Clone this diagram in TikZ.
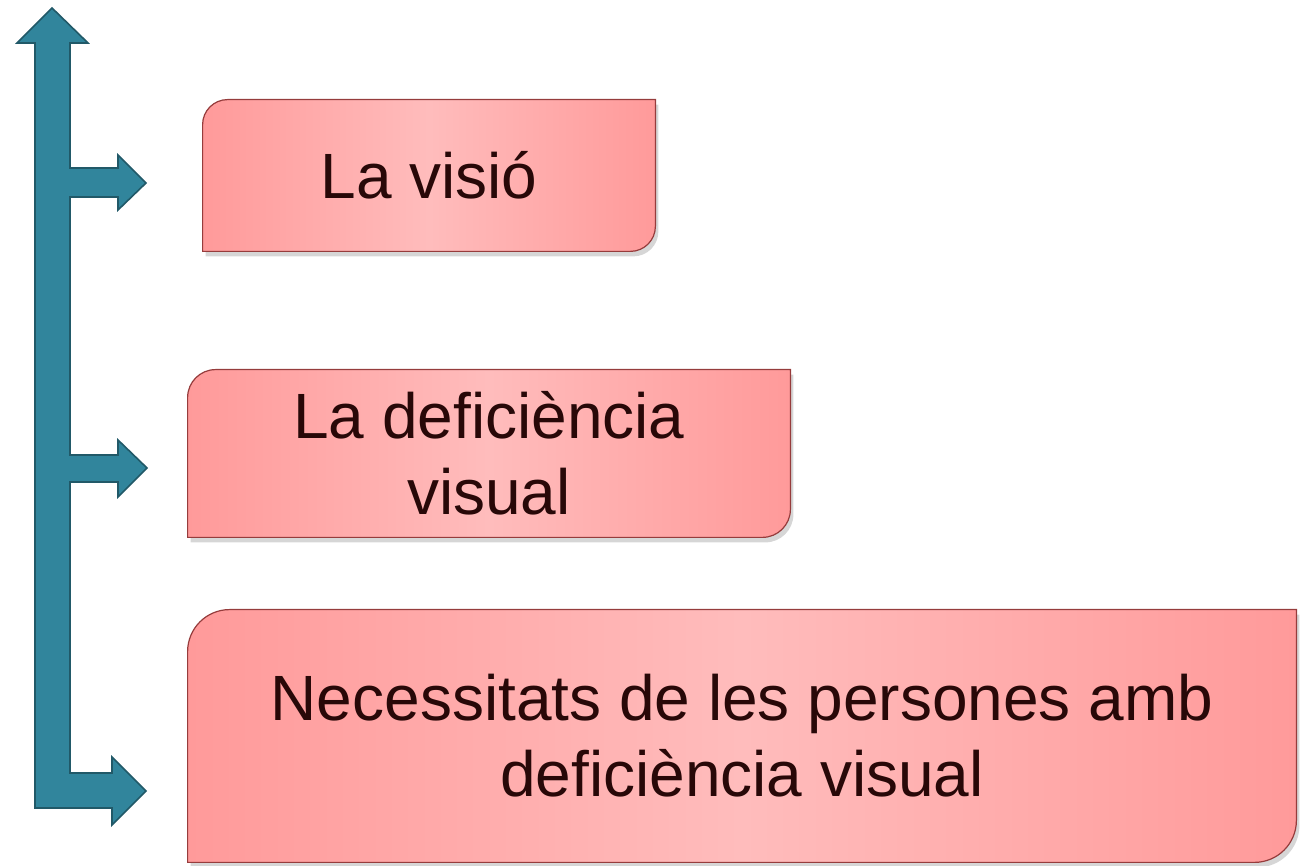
\documentclass[tikz,border=0pt]{standalone}
\usepackage{fontspec}
\setmainfont{Liberation Sans}
\usetikzlibrary{backgrounds,calc}
\definecolor{arrowfill}{RGB}{49,133,156}
\definecolor{arrowline}{RGB}{33,89,104}
\definecolor{cardedge}{RGB}{255,154,154}
\definecolor{cardmid}{RGB}{255,188,188}
\definecolor{cardline}{RGB}{150,60,60}
\definecolor{cardtext}{RGB}{40,8,8}
\tikzstyle{card}=[text=cardtext, align=center, inner sep=0pt, font=\fontsize{32}{38}\selectfont]
\tikzstyle{bigarrow}=[fill=arrowfill, draw=arrowline, line width=0.8pt, line join=miter]
\tikzstyle{cardshape}=[left color=cardedge, right color=cardedge, middle color=cardmid, draw=cardline, line width=0.6pt]
\newcommand{\cardpath}[2]{([yshift=-#2]#1.north west) arc[start angle=180, end angle=90, radius=#2]
      -- (#1.north east) -- ([yshift=#2]#1.south east) arc[start angle=0, end angle=-90, radius=#2]
      -- (#1.south west) -- cycle}
\newcommand{\drawcard}[2]{
% #1 = node, #2 = corner radius
\begin{scope}[on background layer]
  \fill[black, opacity=0.16, transform canvas={shift={(1.5pt,-2.5pt)}}] \cardpath{#1}{#2};
  \path[cardshape] \cardpath{#1}{#2};
\end{scope}
}

\begin{document}
\begin{tikzpicture}[x=0.5pt, y=0.5pt]
  \useasboundingbox (0,0) rectangle (1307,866);

  % the three cards
  \node[card, minimum width=226pt, minimum height=75.5pt] (visio) at (429,690.5) {La visió};
  \node[card, minimum width=301pt, minimum height=83.5pt] (deficiencia) at (489,412.5) {La deficiència\\visual};
  \node[card, minimum width=554pt, minimum height=126pt] (necessitats) at (742,130) {Necessitats de les persones amb\\deficiència visual};
  \drawcard{visio}{12.5pt}
  \drawcard{deficiencia}{14pt}
  \drawcard{necessitats}{21pt}

  % the branching arrow
  \draw[bigarrow] (52,858) -- (88,823) -- (70,823)
    -- (70,698) -- (118,698) -- (118,711) -- (146,683) -- (118,656) -- (118,669) -- (70,669) %visio
    -- (70,411) -- (118,411) -- (118,426) -- (147,398) -- (118,369) -- (118,384) -- (70,384) %deficiencia
    -- (70,93) -- (112,93) -- (112,109) -- (146,75) -- (112,41) -- (112,58) %necessitats
    -- (35,58) -- (35,823) -- (17,823) -- cycle;
\end{tikzpicture}
\end{document}
